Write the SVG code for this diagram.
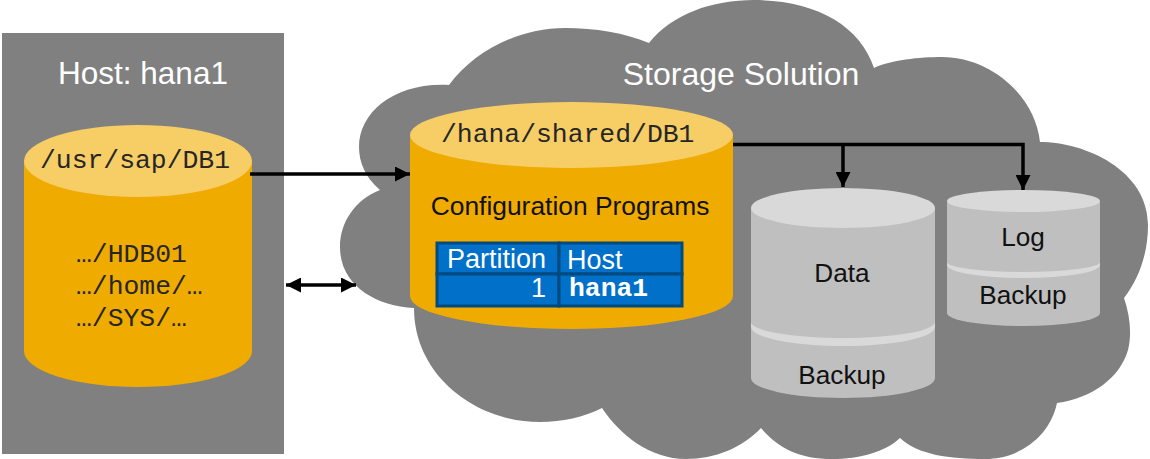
<svg xmlns="http://www.w3.org/2000/svg" width="1150" height="459" viewBox="0 0 1150 459">
<defs>
<marker id="ah" viewBox="0 0 12 12" refX="12" refY="6" markerWidth="15" markerHeight="15" markerUnits="userSpaceOnUse" orient="auto-start-reverse"><path d="M0,0L12,6L0,12z" fill="#000"/></marker>
</defs>
<style>
.sans{font-family:"Liberation Sans",Arial,sans-serif}
.mono{font-family:"Liberation Mono","Courier New",monospace;font-size:26.4px;fill:#262626}
.w{fill:#fff}.k{fill:#111}
.mid{text-anchor:middle}
.org{fill:#f0ab00}.ortop{fill:#f7cd66}
.gr{fill:#bfbfbf}.grtop{fill:#d9d9d9}
.c{fill:none;stroke:#000;stroke-width:3.5}
.cell{fill:#0070c8;stroke:#004a80;stroke-width:3}
</style>
<rect width="1150" height="459" fill="#fff"/>
<g id="host">
<rect x="2" y="33" width="282" height="421" fill="#808080"/>
<text class="sans w mid" x="143" y="84" font-size="31.5">Host: hana1</text>
</g>
<g id="cloud">
<path fill="#808080" d="M649,43C672,14 712,0 754,0C815,0 860,25 874,68C890,60 920,57 942,57C990,57 1035,95 1040,142C1085,142 1148,170 1148,225C1148,255 1138,280 1124,298C1130,315 1132,335 1128,350C1120,378 1092,398 1057,403C1050,436 1020,459 985,459C950,459 918,455 900,438C885,452 860,459 832,459C800,459 778,448 761,428C742,448 715,459 686,459C650,459 620,435 602,408C584,417 562,422 540,422C475,422 414,375 414,308C375,306 340,285 340,247C340,222 355,200 380,190C365,177 359,162 359,147C359,112 395,82 449,85C475,50 520,28 565,28C595,28 625,33 649,43Z"/>
<text class="sans w mid" x="741" y="85" font-size="32">Storage Solution</text>
</g>
<g id="usr-sap">
<path class="org" d="M24,161V351A114,36 0 0 0 252,351V161Z"/>
<ellipse class="ortop" cx="138" cy="161" rx="114" ry="36"/>
<text class="mono" x="40" y="168">/usr/sap/DB1</text>
<text class="mono" x="76" y="262">…/HDB01</text>
<text class="mono" x="76" y="294">…/home/…</text>
<text class="mono" x="76" y="326">…/SYS/…</text>
</g>
<g id="hana-shared">
<path class="org" d="M410,135V296A161.500,33 0 0 0 733,296V135Z"/>
<ellipse class="ortop" cx="571.500" cy="135" rx="161.500" ry="33"/>
<text class="mono" x="441" y="142">/hana/shared/DB1</text>
<text class="sans k mid" x="570" y="215" font-size="26.400">Configuration Programs</text>
</g>
<g id="partition-table">
<rect class="cell" x="437" y="243" width="122" height="31"/>
<rect class="cell" x="559" y="243" width="123" height="31"/>
<rect class="cell" x="437" y="274" width="122" height="32"/>
<rect class="cell" x="559" y="274" width="123" height="32"/>
<text class="sans w" x="447" y="268" font-size="27">Partition</text>
<text class="sans w" x="567" y="269" font-size="27">Host</text>
<text class="sans w" x="546" y="297" font-size="27" text-anchor="end">1</text>
<text class="w" x="569" y="296" font-size="26.400" font-weight="700" font-family="'Liberation Mono','Courier New',monospace">hana1</text>
</g>
<g id="data">
<path class="gr" d="M751,208V378A92,20 0 0 0 935,378V208Z"/>
<ellipse class="grtop" cx="843" cy="208" rx="92" ry="20"/>
<path class="grtop" d="M751,322A92,16 0 0 0 935,322V327A92,19 0 0 1 751,327Z"/>
<text class="sans k mid" x="842" y="282" font-size="26.200">Data</text>
<text class="sans k mid" x="842" y="384" font-size="26.200">Backup</text>
</g>
<g id="log">
<path class="gr" d="M947,201V313A76.500,13 0 0 0 1100,313V201Z"/>
<ellipse class="grtop" cx="1023.500" cy="201" rx="76.500" ry="11"/>
<path class="grtop" d="M947,262A76.500,10 0 0 0 1100,262V265A76.500,13 0 0 1 947,265Z"/>
<text class="sans k mid" x="1023" y="246" font-size="26.200">Log</text>
<text class="sans k mid" x="1023" y="304" font-size="26.200">Backup</text>
</g>
<g id="connectors">
<path class="c" d="M250,174H410" marker-end="url(#ah)"/>
<path class="c" d="M286,285H356" marker-start="url(#ah)" marker-end="url(#ah)"/>
<path class="c" d="M733,144.500H1023V190" marker-end="url(#ah)"/>
<path class="c" d="M843,144.500V187" marker-end="url(#ah)"/>
</g>
</svg>
